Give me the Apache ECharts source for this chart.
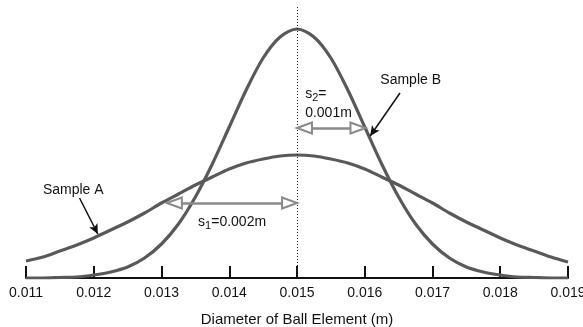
<!DOCTYPE html>
<html>
<head>
<meta charset="utf-8">
<script src="https://cdn.jsdelivr.net/npm/echarts@6/dist/echarts.min.js"></script>
<style>
  html, body { margin: 0; padding: 0; background: #fff; }
  #chart { width: 583px; height: 327px; }
</style>
</head>
<body>
<div id="chart"></div>
<script>
// diameter positions (m)
const diameters = [0.011, 0.01125, 0.0115, 0.01175, 0.012, 0.01225, 0.0125, 0.01275,
  0.013, 0.01325, 0.0135, 0.01375, 0.014, 0.01425, 0.0145, 0.01475, 0.015,
  0.01525, 0.0155, 0.01575, 0.016, 0.01625, 0.0165, 0.01675, 0.017,
  0.01725, 0.0175, 0.01775, 0.018, 0.01825, 0.0185, 0.01875, 0.019];

// curve heights
const sampleA = [17, 21, 27, 33, 40, 48, 56, 65, 75, 84, 93, 101, 109, 115, 119, 122, 123,
  122, 119, 115, 109, 101, 93, 84, 75, 65, 56, 48, 40, 33, 27, 21, 16];
const sampleB = [0, 0, 0.5, 1, 3, 6, 11, 20, 34, 54, 81, 114, 151, 188, 220, 241, 249,
  241, 220, 188, 151, 114, 81, 54, 34, 20, 11, 6, 3, 1, 0.5, 0, 0];

const xTicks = ['0.011', '0.012', '0.013', '0.014', '0.015', '0.016', '0.017', '0.018', '0.019'];

let chart = echarts.init(document.getElementById('chart'));

const font = 'Liberation Sans, Arial, sans-serif';
const curveColor = '#595959';
const arrowGrey = '#8a8a8a';

let pairs = (ys) => diameters.map((x, i) => [x, ys[i]]);

let textPoint = (x, y, fmt, rich) => ({
  coord: [x, y],
  symbol: 'circle',
  symbolSize: 0,
  label: {
    show: true,
    position: 'right',
    distance: 0,
    formatter: fmt,
    color: '#111',
    fontSize: 14,
    fontFamily: font,
    rich: rich
  }
});

const subRich = {
  s: { fontSize: 14, fontFamily: font, color: '#111' },
  sub: { fontSize: 11, fontFamily: font, color: '#111', padding: [7, 0, 0, 0] }
};

let arrowHead = { symbol: 'emptyTriangle', symbolSize: [11, 15] };

let option = {
  animation: false,
  backgroundColor: '#fff',
  grid: { left: 26, right: 15, top: 5, bottom: 49, containLabel: false, outerBoundsMode: 'none' },
  xAxis: {
    type: 'value',
    min: 0.011,
    max: 0.019,
    interval: 0.001,
    name: 'Diameter of Ball Element (m)',
    nameLocation: 'middle',
    nameGap: 34,
    nameTextStyle: { fontSize: 15, fontFamily: font, color: '#111' },
    axisLine: { lineStyle: { color: '#111', width: 2 } },
    axisTick: { inside: true, length: 12, lineStyle: { color: '#111', width: 2 } },
    axisLabel: {
      margin: 8,
      fontSize: 14,
      fontFamily: font,
      color: '#111',
      hideOverlap: false,
      formatter: (v) => xTicks[Math.round((v - 0.011) * 1000)]
    },
    splitLine: { show: false }
  },
  yAxis: {
    type: 'value',
    min: 0,
    max: 273,
    show: false
  },
  series: [
    {
      name: 'Sample A',
      type: 'line',
      data: pairs(sampleA),
      smooth: 0.3,
      showSymbol: false,
      lineStyle: { color: curveColor, width: 3.2 },
      markLine: {
        silent: true,
        animation: false,
        label: { show: false },
        data: [
          // dotted mean line
          [{ coord: [0.015, 0], symbol: 'none', lineStyle: { color: '#222', width: 1, type: [1, 2] } },
           { coord: [0.015, 273], symbol: 'none' }],
          // s2 double arrow
          [Object.assign({ coord: [0.01511, 150], lineStyle: { color: arrowGrey, width: 2.5, type: 'solid' } }, arrowHead),
           Object.assign({ coord: [0.0159, 150] }, arrowHead)],
          // s1 double arrow
          [Object.assign({ coord: [0.01319, 75], lineStyle: { color: arrowGrey, width: 2.5, type: 'solid' } }, arrowHead),
           Object.assign({ coord: [0.01489, 75] }, arrowHead)],
          // Sample B pointer
          [{ coord: [0.01652, 185], symbol: 'none', lineStyle: { color: '#111', width: 1.5, type: 'solid' } },
           { coord: [0.01608, 142], symbol: 'arrow', symbolSize: [7, 10] }],
          // Sample A pointer
          [{ coord: [0.01179, 80], symbol: 'none', lineStyle: { color: '#111', width: 1.5, type: 'solid' } },
           { coord: [0.01206, 44], symbol: 'arrow', symbolSize: [7, 10] }]
        ]
      },
      markPoint: {
        silent: true,
        animation: false,
        data: [
          textPoint(0.01623, 198, 'Sample B'),
          textPoint(0.01125, 88, 'Sample A'),
          textPoint(0.01512, 184, '{s|s}{sub|2}{s|=}', subRich),
          textPoint(0.01512, 165, '0.001m'),
          textPoint(0.01354, 56, '{s|s}{sub|1}{s|=0.002m}', subRich)
        ]
      }
    },
    {
      name: 'Sample B',
      type: 'line',
      data: pairs(sampleB),
      smooth: 0.3,
      showSymbol: false,
      lineStyle: { color: curveColor, width: 3.2 }
    }
  ]
};

chart.setOption(option);
</script>
</body>
</html>
